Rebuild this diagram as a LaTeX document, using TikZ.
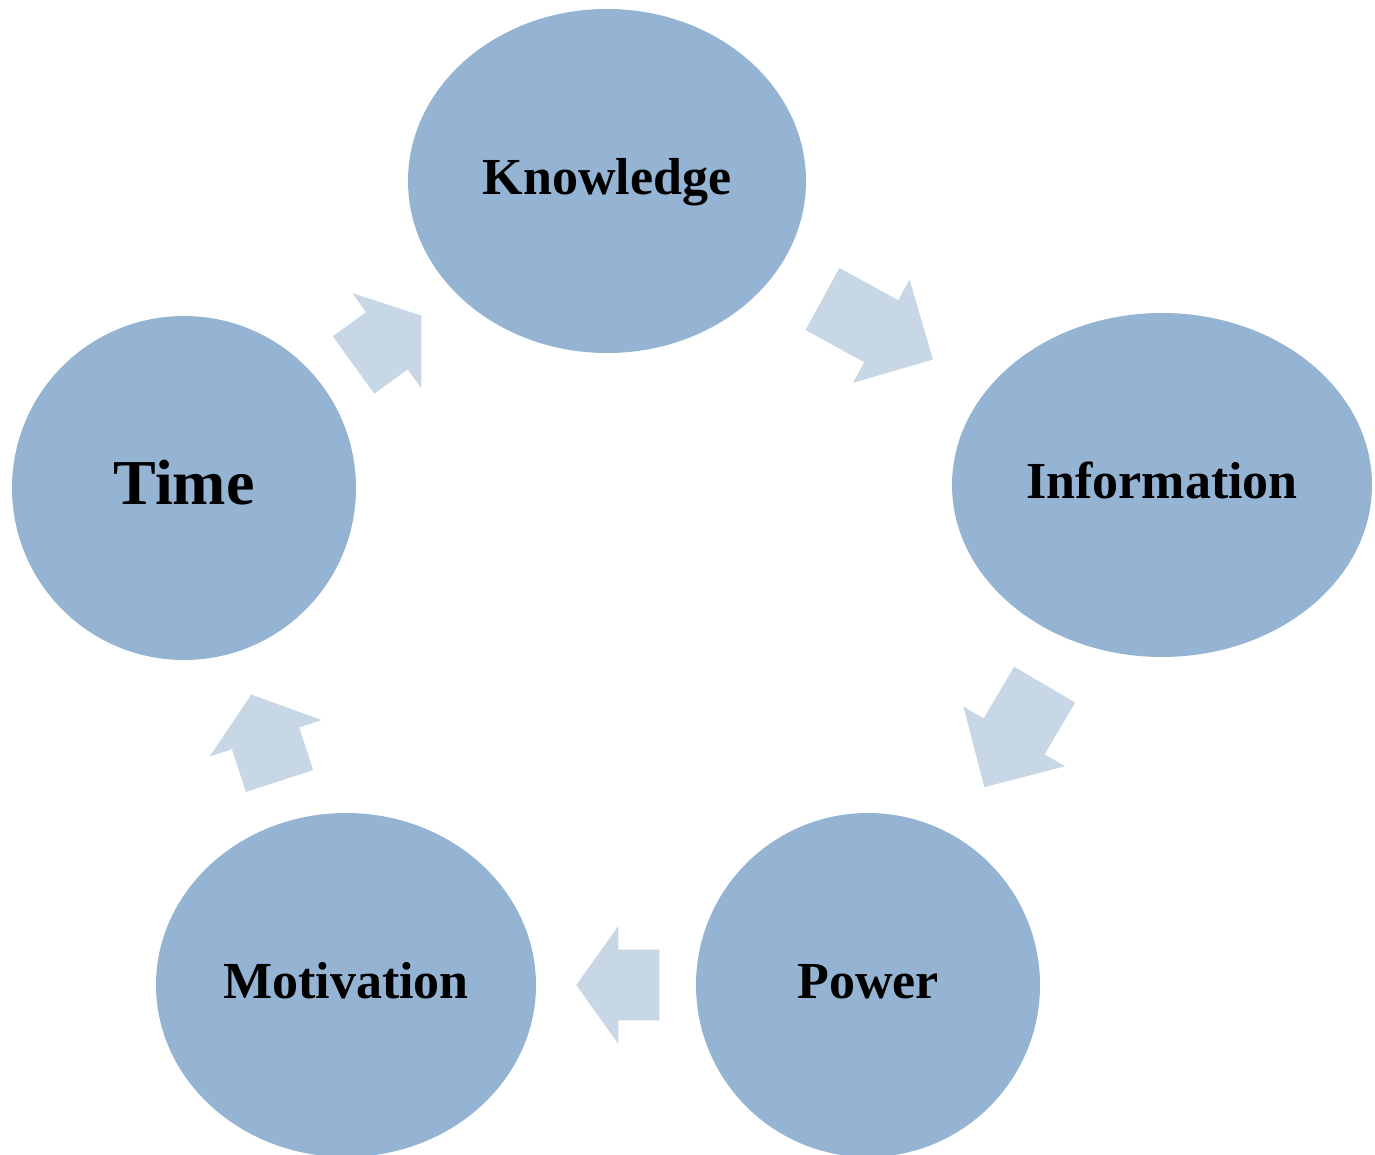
\documentclass[tikz,border=0pt]{standalone}
\usepackage{fontspec}
\setmainfont{Liberation Serif}
\usetikzlibrary{shapes.geometric,shapes.arrows}
\definecolor{bubbleblue}{RGB}{149,180,211}
\definecolor{arrowblue}{RGB}{200,215,230}

\begin{document}
\begin{tikzpicture}[x=0.5pt,y=-0.5pt,
	bubble/.style={ellipse, fill=bubbleblue, inner sep=0pt, outer sep=0pt, minimum height=172pt,
		font=\fontsize{26}{31}\selectfont\bfseries, text height=17.5pt, text depth=4pt},
	flow/.style={single arrow, fill=arrowblue, inner xsep=0pt, inner ysep=17.5pt, outer sep=0pt,
		single arrow head extend=11.75pt, pos=0.41, sloped, allow upside down}]
\useasboundingbox (0,0) rectangle (1375,1155);
\clip (0,0) rectangle (1375,1155);

% the five stages
\node[bubble, minimum width=199pt] (know) at (607,181) {Knowledge};
\node[bubble, minimum width=210pt] (info) at (1162,485) {Information};
\node[bubble, minimum width=172pt] (power) at (868,985) {Power};
\node[bubble, minimum width=190pt] (motiv) at (346,985) {Motivation};
\node[bubble, minimum width=172pt, font=\fontsize{32}{38}\selectfont\bfseries,
	text height=21.5pt, text depth=5pt] (time) at (184,488) {Time};

% block arrows between them
\path (know) -- node[flow, minimum height=63pt, single arrow tip angle=90] (kfi) {} (info);
\path (info) -- node[flow, minimum height=59.5pt, single arrow tip angle=90] (ifp) {} (power);
\path (power) -- node[flow, minimum height=41.5pt, single arrow tip angle=109] (pfm) {} (motiv);
\path (motiv) -- node[flow, minimum height=45.5pt, single arrow tip angle=104] (mft) {} (time);
\path (time) -- node[flow, minimum height=42pt, single arrow tip angle=108] (tfk) {} (know);
\end{tikzpicture}
\end{document}
